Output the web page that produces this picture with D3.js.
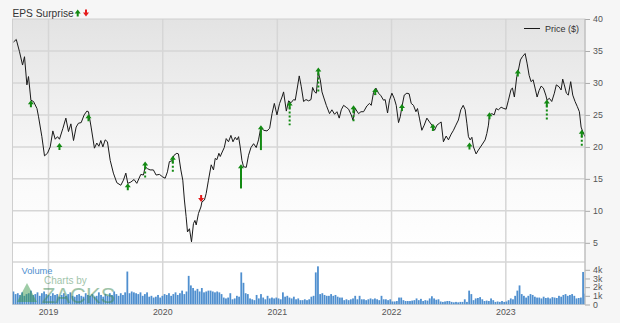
<!DOCTYPE html>
<html>
<head>
<meta charset="utf-8">
<script src="https://cdn.jsdelivr.net/npm/d3@7"></script>
<style>
  body { margin: 0; background: #f6f6f6; }
  svg { display: block; font-family: "Liberation Sans", Arial, sans-serif; }
</style>
</head>
<body>
<script>
// price, [decimal year, price $]
const priceSeries = [
  [2018.694,36.4],[2018.718,36.8],[2018.746,34.9],[2018.773,32.8],[2018.790,34.1],[2018.811,29.7],[2018.825,31.0],[2018.846,27.3],
  [2018.869,27.1],[2018.899,26.0],[2018.913,24.7],[2018.942,21.6],[2018.965,18.6],[2018.991,19.0],[2019.015,20.0],[2019.038,22.5],
  [2019.059,21.2],[2019.079,21.6],[2019.096,21.2],[2019.126,22.9],[2019.152,24.5],[2019.175,22.4],[2019.196,23.6],[2019.219,21.0],
  [2019.242,23.1],[2019.262,23.7],[2019.286,23.8],[2019.312,25.0],[2019.336,25.6],[2019.350,25.5],[2019.373,23.1],[2019.402,19.8],
  [2019.423,20.6],[2019.441,20.1],[2019.458,21.0],[2019.476,20.0],[2019.496,21.1],[2019.516,20.8],[2019.540,17.9],[2019.568,15.9],
  [2019.598,14.4],[2019.633,14.0],[2019.656,14.8],[2019.677,15.9],[2019.694,14.3],[2019.721,14.5],[2019.749,14.9],[2019.773,14.3],
  [2019.808,15.7],[2019.831,15.6],[2019.846,16.9],[2019.866,16.6],[2019.889,16.4],[2019.918,16.4],[2019.942,15.6],[2019.971,15.7],
  [2020.000,15.3],[2020.021,15.1],[2020.041,16.1],[2020.058,17.7],[2020.079,17.8],[2020.099,18.7],[2020.123,19.0],[2020.137,18.9],
  [2020.158,16.4],[2020.175,14.8],[2020.189,11.7],[2020.204,9.1],[2020.216,6.7],[2020.233,7.2],[2020.251,5.15],[2020.268,8.0],
  [2020.281,8.5],[2020.292,7.8],[2020.312,9.6],[2020.333,10.6],[2020.342,11.4],[2020.364,11.7],[2020.379,12.7],[2020.399,14.8],
  [2020.423,17.2],[2020.443,16.4],[2020.458,18.2],[2020.473,18.0],[2020.490,19.0],[2020.502,18.5],[2020.519,19.2],[2020.537,19.9],
  [2020.554,21.3],[2020.574,20.8],[2020.595,21.8],[2020.613,20.8],[2020.633,21.5],[2020.648,21.1],[2020.662,21.6],[2020.676,20.0],
  [2020.691,17.9],[2020.705,16.9],[2020.729,16.8],[2020.749,18.7],[2020.770,19.9],[2020.793,20.5],[2020.816,19.9],[2020.836,21.1],
  [2020.857,23.1],[2020.880,22.6],[2020.910,22.5],[2020.933,22.9],[2020.954,25.2],[2020.974,26.8],[2020.997,25.0],[2021.020,26.8],
  [2021.041,27.8],[2021.055,28.6],[2021.079,25.6],[2021.099,27.2],[2021.120,26.9],[2021.143,27.4],[2021.157,27.3],[2021.172,28.9],
  [2021.192,31.1],[2021.210,29.4],[2021.230,27.1],[2021.251,27.4],[2021.274,27.2],[2021.295,27.4],[2021.309,29.3],[2021.326,28.6],
  [2021.341,28.4],[2021.359,31.6],[2021.376,30.5],[2021.391,28.6],[2021.405,27.8],[2021.429,26.5],[2021.457,25.2],[2021.478,25.8],
  [2021.501,25.1],[2021.522,25.5],[2021.542,24.5],[2021.560,25.8],[2021.580,26.5],[2021.603,26.2],[2021.624,25.9],[2021.647,25.0],
  [2021.662,24.2],[2021.682,26.0],[2021.711,25.2],[2021.732,25.5],[2021.755,25.5],[2021.784,26.4],[2021.807,26.8],[2021.822,26.5],
  [2021.842,28.5],[2021.863,29.2],[2021.886,28.4],[2021.907,28.0],[2021.930,27.3],[2021.944,27.4],[2021.965,25.3],[2021.982,27.3],
  [2022.003,28.4],[2022.023,27.6],[2022.041,26.5],[2022.061,23.8],[2022.076,24.7],[2022.091,26.3],[2022.111,28.1],[2022.134,28.4],
  [2022.154,28.3],[2022.172,26.8],[2022.192,26.5],[2022.213,25.5],[2022.227,26.0],[2022.244,24.5],[2022.265,22.6],[2022.286,23.4],
  [2022.309,24.5],[2022.332,23.9],[2022.353,23.4],[2022.376,22.6],[2022.397,23.4],[2022.419,23.7],[2022.434,23.9],[2022.454,20.8],
  [2022.478,21.7],[2022.498,21.1],[2022.522,22.0],[2022.542,22.6],[2022.563,23.4],[2022.585,24.2],[2022.606,25.8],[2022.627,26.5],
  [2022.644,25.8],[2022.659,23.7],[2022.673,21.6],[2022.688,21.1],[2022.703,21.5],[2022.717,20.0],[2022.740,18.9],[2022.760,19.5],
  [2022.790,20.3],[2022.819,21.1],[2022.834,22.1],[2022.848,23.4],[2022.857,25.0],[2022.878,25.2],[2022.898,25.0],[2022.915,26.0],
  [2022.935,25.8],[2022.959,26.2],[2022.983,26.0],[2023.003,25.9],[2023.023,27.3],[2023.046,29.0],[2023.058,29.2],[2023.075,27.8],
  [2023.096,31.0],[2023.110,32.0],[2023.128,33.6],[2023.145,34.1],[2023.169,34.6],[2023.186,33.1],[2023.204,31.2],[2023.221,30.2],
  [2023.239,30.5],[2023.256,29.2],[2023.274,27.8],[2023.291,28.8],[2023.309,29.5],[2023.329,29.2],[2023.350,28.1],[2023.361,27.3],
  [2023.381,27.6],[2023.402,27.1],[2023.425,28.4],[2023.442,29.7],[2023.466,29.4],[2023.484,28.9],[2023.498,30.6],[2023.512,29.7],
  [2023.530,28.4],[2023.547,28.1],[2023.568,30.2],[2023.586,28.1],[2023.606,27.1],[2023.626,26.3],[2023.644,25.5],[2023.659,23.1],
  [2023.673,22.4],[2023.693,21.6]
];

// weekly volume in thousands, first week starting 2018-09-08
const volumeStart = [2018, 8, 8];
const volumeWeekly = [
  1.5,1.2,1.3,1.1,1.4,1.0,1.2,1.3,1.6,1.1, 1.2,1.4,1.0,1.3,1.5,1.2,1.1,1.0,1.3,1.1,
  1.2,0.9,1.1,1.3,1.0,1.2,1.4,1.0,0.9,1.1, 1.2,1.0,0.9,1.3,1.1,1.0,1.2,0.9,1.0,1.4,
  1.1,0.9,1.2,1.0,1.3,1.1,1.5,1.2,1.0,1.3, 1.1,1.4,3.8,1.3,1.5,1.4,1.3,1.2,1.4,1.0,
  1.2,1.4,0.9,1.0,0.8,0.9,1.1,0.8,1.0,1.2, 1.1,1.3,1.0,1.2,1.4,1.1,1.3,1.6,1.2,1.5,
  3.3,2.2,1.9,1.6,1.8,1.5,1.9,1.4,1.5,1.6, 1.6,1.5,1.4,1.5,1.4,1.2,0.8,0.7,0.8,1.3,
  0.6,0.7,1.0,0.9,3.7,2.5,1.3,1.2,0.7,0.6, 0.5,1.1,0.7,1.2,0.8,0.6,1.0,0.7,0.8,0.7,
  0.8,0.7,0.6,1.4,0.9,1.0,0.8,0.7,0.9,0.6, 0.7,0.5,0.5,0.6,0.5,0.6,0.9,1.0,3.7,4.4,
  1.2,1.3,1.1,1.0,1.0,1.2,1.0,1.1,0.9,0.8, 0.8,0.5,0.6,0.5,0.6,0.7,1.0,0.6,1.0,0.6,
  0.6,0.5,0.6,0.7,0.6,0.7,0.6,0.5,1.0,0.6, 0.6,0.5,0.6,0.35,0.35,0.4,0.8,0.8,0.5,0.4,
  0.4,0.4,0.45,0.5,0.7,0.5,0.65,0.4,0.5,0.45, 0.7,0.95,0.7,0.55,0.6,0.35,0.3,0.35,0.4,0.4,
  0.3,0.25,0.3,0.25,0.3,0.3,0.6,0.3,1.6,1.2, 0.5,0.7,0.75,0.85,0.6,0.4,0.45,0.4,0.7,0.5,
  0.3,0.35,0.3,0.4,0.3,0.35,0.5,0.7,0.6,1.0, 1.6,2.2,1.2,1.0,0.8,1.0,1.2,1.1,0.9,0.8,
  0.8,0.7,0.9,0.75,0.8,0.7,0.85,0.8,0.75,1.0, 0.9,1.1,1.2,1.0,1.1,1.2,1.0,0.7,0.75,0.8,
  3.75,1.25
];

// EPS surprise markers: date, arrow tip price, stem end price
const epsYears = [2018.846,2019.096,2019.350,2019.694,2019.846,2020.088,2020.335,2020.683,2020.857,2021.108,
                  2021.359,2021.667,2021.857,2022.091,2022.362,2022.682,2022.857,2023.105,2023.359,2023.665];
const epsTip   = [27.3,20.6,25.1,14.3,17.7,18.6,11.4,17.3,23.4,27.1,32.4,26.5,29.2,26.7,23.6,20.7,25.4,32.1,27.4,22.7];
const epsBase  = [26.4,19.9,24.3,13.4,15.1,16.1,12.35,13.5,19.5,23.4,28.6,23.9,28.1,25.6,22.5,19.8,24.5,31.1,24.3,20.1];
const epsBeat  = [1,1,1,1,1,1,0,1,1,1,1,1,1,1,1,1,1,1,1,1];
const epsDashed= [0,0,0,0,1,1,0,0,0,1,1,1,0,0,0,0,0,0,1,1];

const yearTicks = [2019, 2020, 2021, 2022, 2023];
const priceTicks = [5, 10, 15, 20, 25, 30, 35, 40];
const volumeTicks = [0, 1, 2, 3, 4];

const width = 620, height = 323;
const plot = {left: 12.5, right: 585, top: 19, split: 262, bottom: 304.5};
const green = "#138a13", red = "#e51b1b";

function yearToDate(t) {
  const yr = Math.floor(t);
  const a = Date.UTC(yr, 0, 1), b = Date.UTC(yr + 1, 0, 1);
  return new Date(a + (t - yr) * (b - a));
}

const x = d3.scaleUtc()
  .domain([new Date(Date.UTC(2018, 8, 8)), new Date(Date.UTC(2023, 8, 11))])
  .range([plot.left, plot.right]);
const y = d3.scaleLinear().domain([2, 40]).range([plot.split, plot.top]);
const yVol = d3.scaleLinear().domain([0, 4.9]).range([plot.bottom, plot.split]);

const svg = d3.select("body").append("svg")
  .attr("width", width)
  .attr("height", height);

const defs = svg.append("defs");
const grad = defs.append("linearGradient")
  .attr("id", "bg").attr("x1", 0).attr("y1", 0).attr("x2", 0).attr("y2", 1);
grad.append("stop").attr("offset", "0%").attr("stop-color", "#e3e3e3");
grad.append("stop").attr("offset", "65%").attr("stop-color", "#fafafa");
grad.append("stop").attr("offset", "100%").attr("stop-color", "#ffffff");
defs.append("clipPath").attr("id", "clip")
  .append("rect")
  .attr("x", plot.left).attr("y", plot.top)
  .attr("width", plot.right - plot.left).attr("height", plot.bottom - plot.top);

// panel backgrounds
svg.append("rect")
  .attr("x", plot.left).attr("y", plot.top)
  .attr("width", plot.right - plot.left).attr("height", plot.split - plot.top)
  .attr("fill", "url(#bg)");
svg.append("rect")
  .attr("x", plot.left).attr("y", plot.split)
  .attr("width", plot.right - plot.left).attr("height", plot.bottom - plot.split)
  .attr("fill", "#ffffff");

// grid
svg.append("g").selectAll("line")
  .data(priceTicks.slice(0, -1))
  .enter().append("line")
    .attr("x1", plot.left).attr("x2", plot.right)
    .attr("y1", d => y(d)).attr("y2", d => y(d))
    .attr("stroke", "#d6d6d6").attr("stroke-width", 1.5);
svg.append("line")
  .attr("x1", plot.left).attr("x2", plot.right)
  .attr("y1", plot.split).attr("y2", plot.split)
  .attr("stroke", "#d6d6d6").attr("stroke-width", 1.5);
svg.append("g").selectAll("line")
  .data(yearTicks)
  .enter().append("line")
    .attr("x1", d => x(yearToDate(d))).attr("x2", d => x(yearToDate(d)))
    .attr("y1", plot.top).attr("y2", plot.bottom)
    .attr("stroke", "#d6d6d6").attr("stroke-width", 1.5);

// border
svg.append("rect")
  .attr("x", plot.left).attr("y", plot.top)
  .attr("width", plot.right - plot.left).attr("height", plot.bottom - plot.top)
  .attr("fill", "none").attr("stroke", "#cfcfcf");

// volume bars
const weekMs = 7 * 864e5;
const vol0 = Date.UTC(volumeStart[0], volumeStart[1], volumeStart[2]);
svg.append("g")
  .attr("clip-path", "url(#clip)")
  .selectAll("rect")
  .data(volumeWeekly)
  .enter().append("rect")
    .attr("x", (d, i) => x(new Date(vol0 + i * weekMs)))
    .attr("width", x(new Date(vol0 + weekMs)) - x(new Date(vol0)) - 0.4)
    .attr("y", d => yVol(d))
    .attr("height", d => yVol(0) - yVol(d))
    .attr("fill", "#4f8fcf");

svg.append("text")
  .attr("x", 21.5).attr("y", 274)
  .attr("font-size", 9.3).attr("fill", "#4f8fcf")
  .text("Volume");

// watermark, drawn over the bars
const wm = svg.append("g").attr("opacity", 0.5);
wm.append("path")
  .attr("d", "M17,302 L27,283 L37,302 Z")
  .attr("fill", "#3f9a4f");
wm.append("text")
  .attr("x", 44).attr("y", 284)
  .attr("font-size", 10).attr("fill", "#3f8a55")
  .text("Charts by");
wm.append("text")
  .attr("x", 42).attr("y", 302.5)
  .attr("font-size", 22).attr("fill", "#3f8a55")
  .text("ZACKS");

// price line
const line = d3.line()
  .x(d => x(yearToDate(d[0])))
  .y(d => y(d[1]));
svg.append("path")
  .datum(priceSeries)
  .attr("clip-path", "url(#clip)")
  .attr("fill", "none")
  .attr("stroke", "#1a1a1a")
  .attr("stroke-width", 1)
  .attr("stroke-linejoin", "round")
  .attr("d", line);

// eps arrows
function upArrow(cx, ty) {
  return `M${cx},${ty} L${cx + 3},${ty + 4} L${cx + 1},${ty + 4} L${cx + 1},${ty + 7} L${cx - 1},${ty + 7} L${cx - 1},${ty + 4} L${cx - 3},${ty + 4} Z`;
}
function downArrow(cx, ty) {
  return `M${cx},${ty} L${cx + 3},${ty - 4} L${cx + 1},${ty - 4} L${cx + 1},${ty - 7} L${cx - 1},${ty - 7} L${cx - 1},${ty - 4} L${cx - 3},${ty - 4} Z`;
}
const eps = epsYears.map((t, i) => ({
  x: x(yearToDate(t)), tip: y(epsTip[i]), base: y(epsBase[i]),
  beat: epsBeat[i], dashed: epsDashed[i]
}));
const arrows = svg.append("g");
arrows.selectAll("line")
  .data(eps.filter(d => d.beat && d.base > d.tip + 7))
  .enter().append("line")
    .attr("x1", d => d.x).attr("x2", d => d.x)
    .attr("y1", d => d.tip + 6).attr("y2", d => d.base)
    .attr("stroke", green).attr("stroke-width", 2)
    .attr("stroke-dasharray", d => d.dashed ? "2,2" : null);
arrows.selectAll("path")
  .data(eps)
  .enter().append("path")
    .attr("d", d => d.beat ? upArrow(d.x, d.tip) : downArrow(d.x, d.tip))
    .attr("fill", d => d.beat ? green : red);

// right axes
const priceAxis = svg.append("g")
  .attr("transform", `translate(${plot.right},0)`)
  .call(d3.axisRight(y).tickValues(priceTicks).tickSize(5).tickPadding(3));
const volAxis = svg.append("g")
  .attr("transform", `translate(${plot.right},0)`)
  .call(d3.axisRight(yVol).tickValues(volumeTicks).tickSize(5).tickPadding(3)
    .tickFormat(d => d ? d + "k" : "0"));
[priceAxis, volAxis].forEach(g => {
  g.select(".domain").remove();
  g.selectAll("line").attr("stroke", "#aaa");
  g.selectAll("text").attr("font-size", 8.8).attr("fill", "#555")
    .attr("font-family", "Liberation Sans, Arial, sans-serif");
});
svg.append("line")
  .attr("x1", plot.right).attr("x2", plot.right)
  .attr("y1", plot.top).attr("y2", plot.bottom)
  .attr("stroke", "#b8b8b8");

// year labels
svg.append("g").selectAll("text")
  .data(yearTicks)
  .enter().append("text")
    .attr("x", d => x(yearToDate(d)))
    .attr("y", 314.5)
    .attr("text-anchor", "middle")
    .attr("font-size", 8.8).attr("fill", "#555")
    .text(d => d);

// title
svg.append("text")
  .attr("x", 12.5).attr("y", 16.5)
  .attr("font-size", 10.2).attr("fill", "#333")
  .text("EPS Surprise");
svg.append("path").attr("d", upArrow(77.7, 9.5)).attr("fill", green);
svg.append("path").attr("d", downArrow(86, 16.5)).attr("fill", red);

// legend
svg.append("line")
  .attr("x1", 524).attr("x2", 540).attr("y1", 28.5).attr("y2", 28.5)
  .attr("stroke", "#1a1a1a").attr("stroke-width", 1);
svg.append("text")
  .attr("x", 545).attr("y", 32)
  .attr("font-size", 9).attr("fill", "#333")
  .text("Price ($)");
</script>
</body>
</html>
